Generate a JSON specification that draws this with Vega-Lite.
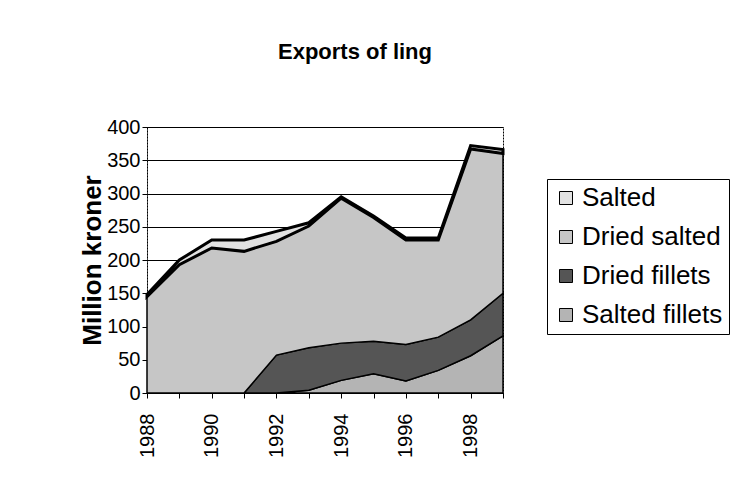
{
  "$schema": "https://vega.github.io/schema/vega-lite/v6.json",
  "width": 356,
  "height": 266,
  "autosize": {"type": "none"},
  "padding": {"left": 147, "top": 127, "right": 228, "bottom": 105},
  "background": "white",
  "title": {"text": "Exports of ling", "fontSize": 22, "font": "Liberation Sans", "fontWeight": "bold", "color": "black", "anchor": "middle", "frame": "group", "offset": 53, "dx": 30},
  "config": {
    "font": "Liberation Sans",
    "view": {"stroke": "black", "strokeDash": [2, 1], "strokeWidth": 1}
  },
  "data": {
    "values": [
      {"year": 1988, "series": "Salted fillets", "rank": 1, "value": 0},
      {"year": 1989, "series": "Salted fillets", "rank": 1, "value": 0},
      {"year": 1990, "series": "Salted fillets", "rank": 1, "value": 0},
      {"year": 1991, "series": "Salted fillets", "rank": 1, "value": 0},
      {"year": 1992, "series": "Salted fillets", "rank": 1, "value": 0},
      {"year": 1993, "series": "Salted fillets", "rank": 1, "value": 4},
      {"year": 1994, "series": "Salted fillets", "rank": 1, "value": 19},
      {"year": 1995, "series": "Salted fillets", "rank": 1, "value": 29},
      {"year": 1996, "series": "Salted fillets", "rank": 1, "value": 18},
      {"year": 1997, "series": "Salted fillets", "rank": 1, "value": 34},
      {"year": 1998, "series": "Salted fillets", "rank": 1, "value": 56},
      {"year": 1999, "series": "Salted fillets", "rank": 1, "value": 86},
      {"year": 1988, "series": "Dried fillets", "rank": 2, "value": 0},
      {"year": 1989, "series": "Dried fillets", "rank": 2, "value": 0},
      {"year": 1990, "series": "Dried fillets", "rank": 2, "value": 0},
      {"year": 1991, "series": "Dried fillets", "rank": 2, "value": 0},
      {"year": 1992, "series": "Dried fillets", "rank": 2, "value": 57},
      {"year": 1993, "series": "Dried fillets", "rank": 2, "value": 64},
      {"year": 1994, "series": "Dried fillets", "rank": 2, "value": 56},
      {"year": 1995, "series": "Dried fillets", "rank": 2, "value": 49},
      {"year": 1996, "series": "Dried fillets", "rank": 2, "value": 55},
      {"year": 1997, "series": "Dried fillets", "rank": 2, "value": 50},
      {"year": 1998, "series": "Dried fillets", "rank": 2, "value": 54},
      {"year": 1999, "series": "Dried fillets", "rank": 2, "value": 64},
      {"year": 1988, "series": "Dried salted", "rank": 3, "value": 145},
      {"year": 1989, "series": "Dried salted", "rank": 3, "value": 193},
      {"year": 1990, "series": "Dried salted", "rank": 3, "value": 218},
      {"year": 1991, "series": "Dried salted", "rank": 3, "value": 213},
      {"year": 1992, "series": "Dried salted", "rank": 3, "value": 171},
      {"year": 1993, "series": "Dried salted", "rank": 3, "value": 183},
      {"year": 1994, "series": "Dried salted", "rank": 3, "value": 218},
      {"year": 1995, "series": "Dried salted", "rank": 3, "value": 186},
      {"year": 1996, "series": "Dried salted", "rank": 3, "value": 157},
      {"year": 1997, "series": "Dried salted", "rank": 3, "value": 146},
      {"year": 1998, "series": "Dried salted", "rank": 3, "value": 257},
      {"year": 1999, "series": "Dried salted", "rank": 3, "value": 210},
      {"year": 1988, "series": "Salted", "rank": 4, "value": 3},
      {"year": 1989, "series": "Salted", "rank": 4, "value": 7},
      {"year": 1990, "series": "Salted", "rank": 4, "value": 12},
      {"year": 1991, "series": "Salted", "rank": 4, "value": 17},
      {"year": 1992, "series": "Salted", "rank": 4, "value": 15},
      {"year": 1993, "series": "Salted", "rank": 4, "value": 5},
      {"year": 1994, "series": "Salted", "rank": 4, "value": 2},
      {"year": 1995, "series": "Salted", "rank": 4, "value": 2},
      {"year": 1996, "series": "Salted", "rank": 4, "value": 3},
      {"year": 1997, "series": "Salted", "rank": 4, "value": 3},
      {"year": 1998, "series": "Salted", "rank": 4, "value": 5},
      {"year": 1999, "series": "Salted", "rank": 4, "value": 6}
    ]
  },
  "mark": {"type": "area", "stroke": "black", "interpolate": "linear"},
  "encoding": {
    "x": {
      "field": "year", "type": "quantitative",
      "scale": {"domain": [1988, 1999], "nice": false, "zero": false},
      "axis": {
        "values": [1988, 1989, 1990, 1991, 1992, 1993, 1994, 1995, 1996, 1997, 1998, 1999],
        "format": "d",
        "labelExpr": "datum.value % 2 == 0 ? datum.label : ''",
        "labelAngle": -90, "labelFontSize": 20, "labelColor": "black",
        "labelFlush": false, "labelOverlap": false, "labelBound": false, "labelPadding": 15,
        "tickColor": "black", "tickSize": 5, "domainColor": "black", "grid": false, "title": null
      }
    },
    "y": {
      "field": "value", "type": "quantitative", "stack": "zero",
      "scale": {"domain": [0, 400], "nice": false},
      "axis": {
        "values": [0, 50, 100, 150, 200, 250, 300, 350, 400],
        "labelFontSize": 20, "labelColor": "black", "labelPadding": 2,
        "tickColor": "black", "tickSize": 5,
        "domainColor": "black", "domainDash": [2, 1],
        "grid": true, "gridColor": "black", "gridWidth": 1, "gridOpacity": 1,
        "title": "Million kroner", "titleFontSize": 26, "titleFontWeight": "bold", "titleColor": "black", "titlePadding": 1
      }
    },
    "color": {
      "field": "series", "type": "nominal",
      "scale": {
        "domain": ["Salted", "Dried salted", "Dried fillets", "Salted fillets"],
        "range": ["#e2e2e2", "#c6c6c6", "#555555", "#b4b4b4"]
      },
      "legend": {
        "title": null, "orient": "none", "legendX": 400, "legendY": 52,
        "strokeColor": "black", "padding": 6, "fillColor": "white",
        "symbolType": "square", "symbolSize": 169, "symbolStrokeColor": "black", "symbolStrokeWidth": 1, "symbolOpacity": 1,
        "labelFontSize": 26, "labelColor": "black", "labelOffset": 3, "rowPadding": 13
      }
    },
    "order": {"field": "rank", "type": "quantitative"},
    "strokeWidth": {"condition": {"test": "datum.series === 'Salted'", "value": 3}, "value": 1.5}
  }
}
